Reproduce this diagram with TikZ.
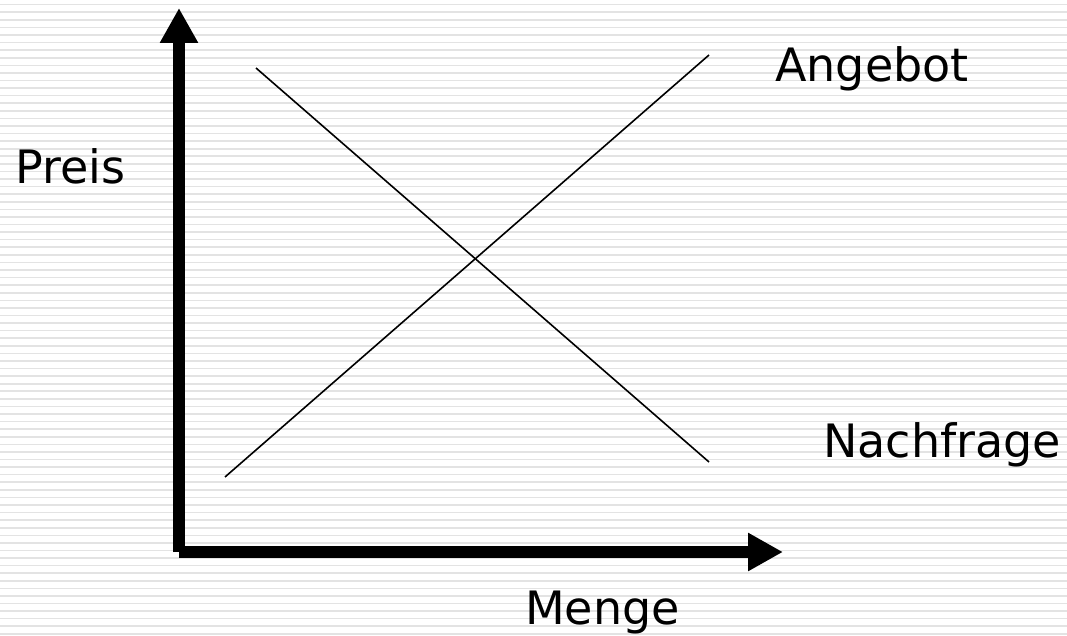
\documentclass[tikz,border=0pt]{standalone}
\usepackage{fontspec}
\setmainfont{DejaVu Sans}
\usetikzlibrary{arrows.meta}
\pgfdeclarelayer{backlayer}
\pgfdeclarelayer{edgelayer}
\pgfdeclarelayer{nodelayer}
\pgfsetlayers{backlayer,edgelayer,nodelayer,main}
\tikzstyle{axis_text}=[anchor=base west,inner sep=0pt,font=\fontsize{46}{46}\selectfont]
\tikzstyle{axis_arrow}=[line width=12pt,draw=black,-{Triangle[length=35pt,width=36pt]}]
\tikzstyle{market_line}=[line width=1.6pt,draw=black]
\tikzstyle{stripe}=[line width=1.6pt,draw=black!11]

\begin{document}
\begin{tikzpicture}[x=1pt,y=-1pt]
	\useasboundingbox (0,0) rectangle (1067,636);
	\begin{pgfonlayer}{backlayer}
		\fill [white] (0,0) rectangle (1067,636);
		\foreach \i in {0,...,83}
			\draw [style=stripe] (0,4.7+7.58*\i) -- (1067,4.7+7.58*\i);
	\end{pgfonlayer}
	\begin{pgfonlayer}{nodelayer}
		\coordinate (0) at (179,552);
		\coordinate (1) at (179,8);
		\coordinate (2) at (783,552);
		\coordinate (3) at (256,68);
		\coordinate (4) at (709,462);
		\coordinate (5) at (225,477);
		\coordinate (6) at (709,55);
		\node [style={axis_text}] (7) at (15,184) {Preis};
		\node [style={axis_text}] (8) at (525,624) {Menge};
		\node [style={axis_text}] (9) at (775,82) {Angebot};
		\node [style={axis_text}] (10) at (823,457) {Nachfrage};
	\end{pgfonlayer}
	\begin{pgfonlayer}{edgelayer}
		\draw [style={axis_arrow}] (0) to (1);
		\draw [style={axis_arrow}] (0) to (2);
		\draw [style={market_line}] (3) to (4);
		\draw [style={market_line}] (5) to (6);
	\end{pgfonlayer}
\end{tikzpicture}
\end{document}
